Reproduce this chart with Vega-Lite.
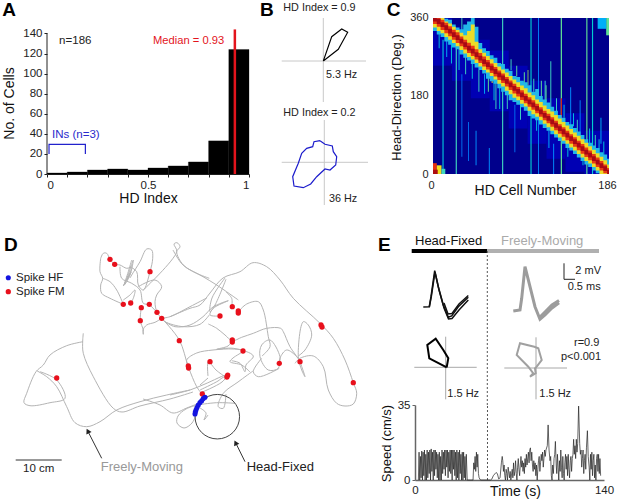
{"$schema":"https://vega.github.io/schema/vega-lite/v6.json","autosize":{"type":"none"},"padding":{"left":47,"top":0,"right":570,"bottom":501},"background":"white","bounds":"flush","align":"none","center":false,"spacing":235,
"config":{"view":{"stroke":null},"font":"Liberation Sans","text":{"font":"Liberation Sans","align":"left","baseline":"middle","fontSize":11},"axis":{"grid":false,"labelFont":"Liberation Sans","titleFont":"Liberation Sans","labelColor":"#222","titleColor":"#111","titleFontWeight":"normal","domainColor":"#222","tickColor":"#222"}},
"vconcat":[
{"hconcat":[
{"width":202,"height":174,
"encoding":{"x":{"field":"x","type":"quantitative","scale":{"domain":[0,1],"nice":false},"axis":{"values":[0,0.1,0.2,0.3,0.4,0.5,0.6,0.7,0.8,0.9,1],"labelExpr":"(datum.value==0||datum.value==0.5||datum.value==1)?datum.label:''","format":"~g","title":"HD Index","tickSize":3,"labelFontSize":11.5,"titleFontSize":14,"titlePadding":1,"labelPadding":2,"labelOverlap":false}},"y":{"field":"y","type":"quantitative","scale":{"domain":[0,173.3],"nice":false},"axis":{"values":[0,20,40,60,80,100,120,140],"title":"No. of Cells","domain":false,"tickSize":3,"labelFontSize":11.5,"titleFontSize":14,"titleX":-38,"titleY":103,"titleBaseline":"middle","labelPadding":2}}},
"layer":[
{"data":{"values":[{"x":0,"x2":0.1,"y":1},{"x":0.1,"x2":0.2,"y":2},{"x":0.2,"x2":0.3,"y":4},{"x":0.3,"x2":0.4,"y":5},{"x":0.4,"x2":0.5,"y":4},{"x":0.5,"x2":0.6,"y":6},{"x":0.6,"x2":0.7,"y":8},{"x":0.7,"x2":0.8,"y":12},{"x":0.8,"x2":0.9,"y":33},{"x":0.9,"x2":1,"y":124}]},"mark":{"type":"rect","color":"#000","stroke":"#000","strokeWidth":0.3},"encoding":{"x2":{"field":"x2"},"y2":{"datum":0}}},
{"data":{"values":[{"x":0,"y":0},{"x":0,"y":140}]},"mark":{"type":"line","color":"#222","strokeWidth":1}},
{"data":{"values":[{"x":0.93,"y":0},{"x":0.93,"y":144}]},"mark":{"type":"line","color":"#e3141c","strokeWidth":2.5},"encoding":{"order":{"field":"y"}}},
{"data":{"values":[{"x":0.01,"y":20,"i":1},{"x":0.01,"y":29.5,"i":2},{"x":0.19,"y":29.5,"i":3},{"x":0.19,"y":20,"i":4}]},"mark":{"type":"line","color":"#2222cc","strokeWidth":1.2},"encoding":{"order":{"field":"i"}}},
{"data":{"values":[{"x":0.06,"y":132,"t":"n=186"}]},"mark":{"type":"text","color":"#222","fontSize":11.5},"encoding":{"text":{"field":"t"}}},
{"data":{"values":[{"x":0.525,"y":132,"t":"Median = 0.93"}]},"mark":{"type":"text","color":"#e3141c","fontSize":11.2},"encoding":{"text":{"field":"t"}}},
{"data":{"values":[{"x":0.025,"y":39,"t":"INs (n=3)"}]},"mark":{"type":"text","color":"#2a2acc","fontSize":11.5},"encoding":{"text":{"field":"t"}}},
{"data":{"values":[{"x":-0.222,"y":163,"t":"A"}]},"mark":{"type":"text","color":"#000","fontSize":19,"fontWeight":"bold"},"encoding":{"text":{"field":"t"}}}
]},
{"width":120,"height":210,
"encoding":{"x":{"field":"x","type":"quantitative","scale":{"domain":[281,401],"nice":false,"zero":false},"axis":null},"y":{"field":"y","type":"quantitative","scale":{"domain":[0,210],"reverse":true,"nice":false},"axis":null}},
"layer":[
{"data":{"values":[{"s":1,"x":281.7,"y":61},{"s":1,"x":366,"y":61},{"s":2,"x":323.3,"y":18},{"s":2,"x":323.3,"y":102},{"s":3,"x":281.7,"y":162.3},{"s":3,"x":368,"y":162.3},{"s":4,"x":324.3,"y":120},{"s":4,"x":324.3,"y":205}]},"transform":[{"window":[{"op":"row_number","as":"i"}]}],"mark":{"type":"line","color":"#c8c8c8","strokeWidth":1},"encoding":{"order":{"field":"i"},"detail":{"field":"s"}}},
{"data":{"values":[{"x":323.3,"y":61},{"x":331.7,"y":36.7},{"x":341.7,"y":29},{"x":347.7,"y":32.3},{"x":338.3,"y":49.3},{"x":323.3,"y":61}]},"transform":[{"window":[{"op":"row_number","as":"i"}]}],"mark":{"type":"line","color":"#000","strokeWidth":1.1},"encoding":{"order":{"field":"i"}}},
{"data":{"values":[{"x":320,"y":140.7},{"x":325,"y":144.3},{"x":332.3,"y":146},{"x":333.3,"y":151.7},{"x":336.7,"y":156.7},{"x":335.7,"y":165},{"x":330,"y":170},{"x":325,"y":169},{"x":316.7,"y":176.7},{"x":310.7,"y":184},{"x":303.3,"y":187.7},{"x":294,"y":186},{"x":292.7,"y":176.7},{"x":298.3,"y":163.3},{"x":301.7,"y":153.3},{"x":306.7,"y":148.3},{"x":312.7,"y":146.7},{"x":314,"y":141.7},{"x":320,"y":140.7}]},"transform":[{"window":[{"op":"row_number","as":"i"}]}],"mark":{"type":"line","color":"#1c1ccc","strokeWidth":1.2},"encoding":{"order":{"field":"i"}}},
{"data":{"values":[{"x":283.3,"y":7.5,"t":"HD Index = 0.9"},{"x":326,"y":74.7,"t":"5.3 Hz"},{"x":283.3,"y":112.7,"t":"HD Index = 0.2"},{"x":329,"y":199,"t":"36 Hz"}]},"mark":{"type":"text","color":"#222","fontSize":10.8},"encoding":{"text":{"field":"t"}}},
{"data":{"values":[{"x":260,"y":10,"t":"B"}]},"mark":{"type":"text","color":"#000","fontSize":19,"fontWeight":"bold"},"encoding":{"text":{"field":"t"}}}
]},
{"width":176,"height":174,
"encoding":{"x":{"field":"c","type":"quantitative","scale":{"domain":[0,186],"nice":false},"axis":{"values":[0,186],"title":"HD Cell Number","domain":false,"ticks":false,"labelFontSize":11,"titleFontSize":14,"labelPadding":5,"titleX":92,"titleY":16,"titleBaseline":"middle","labelOverlap":false,"labelFlush":false,"labelOffset":-2}},"y":{"field":"h","type":"quantitative","scale":{"domain":[0,401.5],"nice":false},"axis":{"values":[0,180,360],"title":"Head-Direction (Deg.)","domain":false,"ticks":false,"labelFontSize":11,"titleFontSize":13,"titleX":-37,"titleY":97,"titleBaseline":"middle","labelPadding":5}}},
"layer":[
{"data":{"values":[{"c":0,"c2":186,"h":0,"h2":360,"q":0},{"c":0,"c2":20,"h":250,"h2":360,"q":0.12},{"c":20,"c2":40,"h":215,"h2":340,"q":0.12},{"c":40,"c2":60,"h":175,"h2":310,"q":0.12},{"c":60,"c2":80,"h":145,"h2":285,"q":0.12},{"c":80,"c2":100,"h":105,"h2":250,"q":0.12},{"c":100,"c2":120,"h":70,"h2":215,"q":0.12},{"c":120,"c2":140,"h":35,"h2":175,"q":0.12},{"c":140,"c2":160,"h":5,"h2":140,"q":0.12},{"c":160,"c2":186,"h":0,"h2":100,"q":0.12},{"c":10,"c2":11.2,"h":0,"h2":310,"q":0.4},{"c":24,"c2":25.2,"h":0,"h2":300,"q":0.45},{"c":30,"c2":31,"h":310,"h2":360,"q":0.45},{"c":30,"c2":31,"h":40,"h2":230,"q":0.25},{"c":37,"c2":38,"h":30,"h2":120,"q":0.25},{"c":45,"c2":46,"h":20,"h2":100,"q":0.3},{"c":73,"c2":74.2,"h":0,"h2":360,"q":0.45},{"c":59,"c2":60,"h":0,"h2":60,"q":0.3},{"c":66,"c2":67,"h":150,"h2":220,"q":0.45},{"c":86,"c2":87,"h":50,"h2":160,"q":0.25},{"c":103,"c2":104.2,"h":0,"h2":360,"q":0.42},{"c":111,"c2":112,"h":0,"h2":360,"q":0.28},{"c":124,"c2":125,"h":150,"h2":260,"q":0.45},{"c":127,"c2":128,"h":0,"h2":70,"q":0.3},{"c":135,"c2":136.3,"h":0,"h2":360,"q":0.5},{"c":145,"c2":146,"h":110,"h2":200,"q":0.3},{"c":155,"c2":156,"h":90,"h2":170,"q":0.28},{"c":162,"c2":163.2,"h":0,"h2":360,"q":0.5},{"c":168,"c2":169.2,"h":0,"h2":360,"q":0.42},{"c":177,"c2":178,"h":70,"h2":130,"q":0.35},{"c":183,"c2":186,"h":320,"h2":360,"q":0.5},{"c":174,"c2":183,"h":335,"h2":360,"q":0.35},{"c":0,"c2":4,"h":0,"h2":25,"q":0.8},{"c":4,"c2":9,"h":0,"h2":20,"q":0.6},{"c":9,"c2":13,"h":0,"h2":12,"q":0.45},{"c":0,"c2":5,"h":0,"h2":10,"q":0.95},{"c":36,"c2":44,"h":295,"h2":345,"q":0.5},{"c":100,"c2":100.8,"h":205,"h2":240,"q":0.55},{"c":62,"c2":63,"h":210,"h2":250,"q":0.6},{"c":118,"c2":119,"h":170,"h2":215,"q":0.45},{"c":135,"c2":136.3,"h":130,"h2":175,"q":0.85},
{"c":6,"c2":7,"h":290,"h2":330,"q":0.4},{"c":14,"c2":15,"h":270,"h2":320,"q":0.35},{"c":19,"c2":20,"h":255,"h2":310,"q":0.4},{"c":27,"c2":28,"h":240,"h2":300,"q":0.4},{"c":34,"c2":35,"h":230,"h2":280,"q":0.45},{"c":41,"c2":42,"h":220,"h2":260,"q":0.4},{"c":48,"c2":49,"h":190,"h2":240,"q":0.45},{"c":54,"c2":55,"h":185,"h2":230,"q":0.35},{"c":58,"c2":59,"h":190,"h2":225,"q":0.5},{"c":64,"c2":65,"h":170,"h2":215,"q":0.4},{"c":70,"c2":71,"h":150,"h2":205,"q":0.4},{"c":78,"c2":79,"h":150,"h2":190,"q":0.45},{"c":82,"c2":83,"h":240,"h2":265,"q":0.45},{"c":88,"c2":89,"h":225,"h2":250,"q":0.5},{"c":92,"c2":93,"h":125,"h2":165,"q":0.45},{"c":96,"c2":97,"h":205,"h2":235,"q":0.5},{"c":106,"c2":107,"h":190,"h2":220,"q":0.45},{"c":109,"c2":110,"h":100,"h2":130,"q":0.4},{"c":114,"c2":115,"h":180,"h2":215,"q":0.5},{"c":119,"c2":120,"h":165,"h2":205,"q":0.5},{"c":122,"c2":123,"h":60,"h2":100,"q":0.35},{"c":130,"c2":131,"h":145,"h2":175,"q":0.45},{"c":138,"c2":139,"h":130,"h2":160,"q":0.4},{"c":142,"c2":143,"h":40,"h2":70,"q":0.4},{"c":148,"c2":149,"h":110,"h2":140,"q":0.4},{"c":152,"c2":153,"h":90,"h2":125,"q":0.45},{"c":158,"c2":159,"h":20,"h2":45,"q":0.4},{"c":165,"c2":166,"h":70,"h2":105,"q":0.4},{"c":171,"c2":172,"h":55,"h2":90,"q":0.45},{"c":175,"c2":176,"h":50,"h2":80,"q":0.4},{"c":180,"c2":181,"h":40,"h2":75,"q":0.4}]},"mark":{"type":"rect"},"encoding":{"x2":{"field":"c2"},"y2":{"field":"h2"},"color":{"field":"q","type":"quantitative","legend":null,"scale":{"domain":[0,0.12,0.3,0.45,0.6,0.8,1],"range":["#00008c","#0000b4","#0090ff","#40d8c0","#f0e020","#e83010","#9a0010"]}}}},
{"data":{"name":"band","values":[{"c":0,"al":330,"ah":360,"yl":338,"yh":360,"rl":346,"rh":360,"dl":352,"dh":360},{"c":4,"al":322,"ah":360,"yl":330,"yh":360,"rl":340,"rh":360,"dl":346,"dh":358},{"c":8,"al":316,"ah":360,"yl":325,"yh":360,"rl":332,"rh":356,"dl":339,"dh":350},{"c":12,"al":306,"ah":358,"yl":316,"yh":352,"rl":325,"rh":349,"dl":332,"dh":343},{"c":16,"al":298,"ah":356,"yl":310,"yh":347,"rl":318,"rh":341,"dl":324,"dh":335},{"c":20,"al":292,"ah":345,"yl":302,"yh":340,"rl":310,"rh":333,"dl":316,"dh":327},{"c":24,"al":288,"ah":338,"yl":295,"yh":332,"rl":302,"rh":327,"dl":309,"dh":320},{"c":28,"al":276,"ah":334,"yl":286,"yh":326,"rl":295,"rh":317,"dl":301,"dh":312},{"c":32,"al":268,"ah":345,"yl":278,"yh":320,"rl":287,"rh":310,"dl":293,"dh":304},{"c":36,"al":262,"ah":352,"yl":270,"yh":330,"rl":279,"rh":303,"dl":285,"dh":296},{"c":40,"al":254,"ah":360,"yl":264,"yh":345,"rl":272,"rh":296,"dl":278,"dh":289},{"c":44,"al":246,"ah":340,"yl":256,"yh":305,"rl":264,"rh":288,"dl":270,"dh":281},{"c":48,"al":240,"ah":302,"yl":248,"yh":288,"rl":256,"rh":279,"dl":262,"dh":273},{"c":52,"al":232,"ah":290,"yl":240,"yh":280,"rl":248,"rh":271,"dl":254,"dh":265},{"c":56,"al":220,"ah":284,"yl":234,"yh":272,"rl":241,"rh":263,"dl":247,"dh":258},{"c":60,"al":214,"ah":274,"yl":226,"yh":265,"rl":233,"rh":255,"dl":239,"dh":250},{"c":64,"al":208,"ah":268,"yl":218,"yh":256,"rl":225,"rh":247,"dl":231,"dh":242},{"c":68,"al":198,"ah":256,"yl":208,"yh":248,"rl":217,"rh":239,"dl":223,"dh":234},{"c":72,"al":190,"ah":254,"yl":202,"yh":241,"rl":210,"rh":232,"dl":216,"dh":227},{"c":76,"al":182,"ah":243,"yl":192,"yh":234,"rl":202,"rh":224,"dl":208,"dh":219},{"c":80,"al":170,"ah":238,"yl":184,"yh":226,"rl":194,"rh":216,"dl":200,"dh":211},{"c":84,"al":166,"ah":226,"yl":176,"yh":218,"rl":186,"rh":208,"dl":192,"dh":203},{"c":88,"al":160,"ah":224,"yl":170,"yh":212,"rl":179,"rh":201,"dl":185,"dh":196},{"c":92,"al":154,"ah":215,"yl":162,"yh":204,"rl":171,"rh":193,"dl":177,"dh":188},{"c":96,"al":146,"ah":212,"yl":156,"yh":198,"rl":163,"rh":185,"dl":169,"dh":180},{"c":100,"al":134,"ah":205,"yl":146,"yh":188,"rl":155,"rh":177,"dl":161,"dh":172},{"c":104,"al":128,"ah":190,"yl":138,"yh":182,"rl":148,"rh":170,"dl":154,"dh":165},{"c":108,"al":124,"ah":196,"yl":132,"yh":172,"rl":140,"rh":162,"dl":146,"dh":157},{"c":112,"al":114,"ah":180,"yl":124,"yh":166,"rl":132,"rh":154,"dl":138,"dh":149},{"c":116,"al":106,"ah":172,"yl":116,"yh":158,"rl":124,"rh":146,"dl":130,"dh":141},{"c":120,"al":100,"ah":165,"yl":108,"yh":150,"rl":117,"rh":139,"dl":123,"dh":134},{"c":124,"al":92,"ah":155,"yl":100,"yh":144,"rl":109,"rh":131,"dl":115,"dh":126},{"c":128,"al":84,"ah":146,"yl":92,"yh":136,"rl":101,"rh":123,"dl":107,"dh":118},{"c":132,"al":76,"ah":136,"yl":84,"yh":128,"rl":93,"rh":115,"dl":99,"dh":110},{"c":136,"al":70,"ah":130,"yl":77,"yh":120,"rl":86,"rh":108,"dl":92,"dh":103},{"c":140,"al":60,"ah":120,"yl":70,"yh":112,"rl":78,"rh":100,"dl":84,"dh":95},{"c":144,"al":54,"ah":115,"yl":61,"yh":104,"rl":70,"rh":92,"dl":76,"dh":87},{"c":148,"al":46,"ah":106,"yl":54,"yh":96,"rl":63,"rh":85,"dl":69,"dh":80},{"c":152,"al":38,"ah":98,"yl":46,"yh":88,"rl":55,"rh":77,"dl":61,"dh":72},{"c":156,"al":30,"ah":90,"yl":38,"yh":80,"rl":47,"rh":69,"dl":53,"dh":64},{"c":160,"al":22,"ah":80,"yl":30,"yh":72,"rl":39,"rh":61,"dl":45,"dh":56},{"c":164,"al":16,"ah":72,"yl":24,"yh":64,"rl":32,"rh":54,"dl":38,"dh":49},{"c":168,"al":8,"ah":66,"yl":16,"yh":56,"rl":24,"rh":46,"dl":30,"dh":41},{"c":172,"al":2,"ah":60,"yl":8,"yh":48,"rl":16,"rh":38,"dl":22,"dh":33},{"c":176,"al":0,"ah":50,"yl":0,"yh":40,"rl":8,"rh":30,"dl":14,"dh":25},{"c":180,"al":0,"ah":45,"yl":0,"yh":32,"rl":2,"rh":22,"dl":7,"dh":18},{"c":184,"al":0,"ah":35,"yl":0,"yh":22,"rl":0,"rh":14,"dl":0,"dh":10},{"c":186,"al":0,"ah":35,"yl":0,"yh":22,"rl":0,"rh":14,"dl":0,"dh":10}]},"mark":{"type":"area","color":"#22b8e8","interpolate":"step-after"},"encoding":{"y":{"field":"al","type":"quantitative"},"y2":{"field":"ah"}}},
{"data":{"name":"band"},"mark":{"type":"area","color":"#ecdc28","interpolate":"step-after"},"encoding":{"y":{"field":"yl","type":"quantitative"},"y2":{"field":"yh"}}},
{"data":{"name":"band"},"mark":{"type":"area","color":"#e83a14","interpolate":"step-after"},"encoding":{"y":{"field":"rl","type":"quantitative"},"y2":{"field":"rh"}}},
{"data":{"name":"band"},"mark":{"type":"area","color":"#a80a14","interpolate":"step-after"},"encoding":{"y":{"field":"dl","type":"quantitative"},"y2":{"field":"dh"}}},
{"data":{"values":[{"c":-49,"h":378,"t":"C"}]},"mark":{"type":"text","color":"#000","fontSize":19,"fontWeight":"bold"},"encoding":{"text":{"field":"t"}}}
]}
],"spacing":32,"bounds":"flush","align":"none","center":false},
{"hconcat":[
{"width":363,"height":235,
"encoding":{"x":{"field":"x","type":"quantitative","scale":{"domain":[47,410],"nice":false,"zero":false},"axis":null},"y":{"field":"y","type":"quantitative","scale":{"domain":[235,470],"reverse":true,"nice":false,"zero":false},"axis":null}},
"layer":[
{"data":{"values":[
{"s":1,"x":190,"y":390},{"s":1,"x":166.7,"y":395},{"s":1,"x":140,"y":401.7},{"s":1,"x":116.7,"y":410},{"s":1,"x":100,"y":421.7},{"s":1,"x":86.7,"y":426.7},{"s":1,"x":75,"y":422.7},{"s":1,"x":66.7,"y":406.7},{"s":1,"x":56.7,"y":386.7},{"s":1,"x":46.7,"y":376.7},{"s":1,"x":36.7,"y":370.7},
{"s":2,"x":83,"y":341.7},{"s":2,"x":66.7,"y":345.7},{"s":2,"x":50,"y":355},{"s":2,"x":43.3,"y":365},{"s":2,"x":36,"y":371.7},{"s":2,"x":26.7,"y":393.3},{"s":2,"x":24,"y":402.7},{"s":2,"x":30,"y":405.7},{"s":2,"x":50,"y":402.7},{"s":2,"x":65,"y":398.3},{"s":2,"x":56.7,"y":380},{"s":2,"x":40,"y":371.7},
{"s":3,"x":83.3,"y":333.3},{"s":3,"x":82.7,"y":341},{"s":3,"x":83.3,"y":353.3},{"s":3,"x":93.3,"y":376.7},{"s":3,"x":113.3,"y":408.3},{"s":3,"x":122,"y":412},{"s":3,"x":140,"y":406},{"s":3,"x":170,"y":399},{"s":3,"x":193,"y":392},
{"s":4,"x":143,"y":399},{"s":4,"x":160,"y":405},{"s":4,"x":173,"y":413},{"s":4,"x":186.7,"y":408},{"s":4,"x":197,"y":404},
{"s":5,"x":197,"y":405},{"s":5,"x":186,"y":409},{"s":5,"x":178,"y":416},{"s":5,"x":177,"y":423},{"s":5,"x":184,"y":428},{"s":5,"x":192,"y":423},{"s":5,"x":197,"y":412},
{"s":6,"x":170,"y":395},{"s":6,"x":190,"y":390},{"s":6,"x":205,"y":384},{"s":6,"x":227,"y":375},{"s":6,"x":222,"y":382},{"s":6,"x":200,"y":393},
{"s":7,"x":161.7,"y":318.3},{"s":7,"x":179.3,"y":340},{"s":7,"x":188.3,"y":366.7},{"s":7,"x":196.7,"y":386.7},{"s":7,"x":202,"y":394},
{"s":8,"x":188.3,"y":366.7},{"s":8,"x":186.7,"y":360},{"s":8,"x":196.7,"y":353},{"s":8,"x":213,"y":350},{"s":8,"x":233,"y":349},{"s":8,"x":243,"y":350.7},{"s":8,"x":233,"y":358},{"s":8,"x":230,"y":361.7},{"s":8,"x":241.7,"y":365},{"s":8,"x":250,"y":372},
{"s":9,"x":208,"y":376},{"s":9,"x":208.3,"y":361.7},{"s":9,"x":216,"y":370},{"s":9,"x":225,"y":376.7},
{"s":10,"x":200,"y":385},{"s":10,"x":208,"y":378},
{"s":11,"x":173,"y":250},{"s":11,"x":183,"y":265},{"s":11,"x":203,"y":276.7},{"s":11,"x":216.7,"y":285},{"s":11,"x":238.3,"y":300},
{"s":12,"x":170,"y":316.7},{"s":12,"x":190,"y":308.3},{"s":12,"x":200,"y":305},{"s":12,"x":210,"y":293},{"s":12,"x":223,"y":278},{"s":12,"x":240,"y":271.7},{"s":12,"x":253,"y":262.7},{"s":12,"x":266.7,"y":266.7},{"s":12,"x":280,"y":280},{"s":12,"x":293.3,"y":298.3},{"s":12,"x":320,"y":323.3},{"s":12,"x":333.3,"y":338.3},{"s":12,"x":345,"y":360},{"s":12,"x":353.3,"y":382.7},{"s":12,"x":356.7,"y":393.3},{"s":12,"x":353.3,"y":404},{"s":12,"x":345,"y":406},{"s":12,"x":336.7,"y":403.3},{"s":12,"x":328.3,"y":390},{"s":12,"x":323.3,"y":366.7},{"s":12,"x":313.3,"y":356},{"s":12,"x":300,"y":358.3},{"s":12,"x":295,"y":363.3},
{"s":13,"x":300,"y":361.7},{"s":13,"x":305,"y":376.7},{"s":13,"x":301.7,"y":370},{"s":13,"x":298.3,"y":356.7},{"s":13,"x":303.3,"y":321.7},{"s":13,"x":308.3,"y":325},{"s":13,"x":311.7,"y":335},{"s":13,"x":305,"y":350},{"s":13,"x":298.3,"y":356},
{"s":14,"x":208.3,"y":324},{"s":14,"x":216.7,"y":328.3},{"s":14,"x":225,"y":335},{"s":14,"x":232.3,"y":340.7},{"s":14,"x":241.7,"y":337.3},{"s":14,"x":253.3,"y":333.3},{"s":14,"x":266.7,"y":328.3},{"s":14,"x":280.7,"y":328.3},{"s":14,"x":283.3,"y":331.7},{"s":14,"x":290,"y":346.7},{"s":14,"x":298,"y":358},
{"s":15,"x":238.3,"y":311.7},{"s":15,"x":246.7,"y":304},{"s":15,"x":258.3,"y":301.7},{"s":15,"x":263.3,"y":310},{"s":15,"x":268.3,"y":336.7},{"s":15,"x":270,"y":346.7},{"s":15,"x":262,"y":356},
{"s":16,"x":220,"y":316},{"s":16,"x":210,"y":315},{"s":16,"x":213.3,"y":308.3},{"s":16,"x":228.3,"y":300.7},{"s":16,"x":213,"y":307},{"s":16,"x":203,"y":316.7},{"s":16,"x":190,"y":325},{"s":16,"x":175,"y":326.7},{"s":16,"x":165,"y":321.7},
{"s":17,"x":226,"y":279.3},{"s":17,"x":215,"y":305},{"s":17,"x":210,"y":311.7},{"s":17,"x":212,"y":298},{"s":17,"x":225,"y":278},
{"s":18,"x":231.7,"y":306.7},{"s":18,"x":231.7,"y":298.3},{"s":18,"x":226,"y":292},
{"s":19,"x":279.3,"y":363.3},{"s":19,"x":280,"y":356.7},{"s":19,"x":270,"y":340},{"s":19,"x":261.7,"y":345},{"s":19,"x":260,"y":356.7},{"s":19,"x":268.3,"y":370},{"s":19,"x":278.3,"y":368.3},{"s":19,"x":280,"y":358},{"s":19,"x":286.7,"y":350},{"s":19,"x":296.7,"y":356.7},{"s":19,"x":300,"y":361.7},
{"s":20,"x":279.3,"y":368.3},{"s":20,"x":258.3,"y":376.7},{"s":20,"x":253.3,"y":371.7},{"s":20,"x":261.7,"y":358.3},
{"s":21,"x":232.3,"y":340.7},{"s":21,"x":228,"y":346},{"s":21,"x":216.7,"y":349.3},{"s":21,"x":233.3,"y":348.3},{"s":21,"x":253.3,"y":356},{"s":21,"x":246,"y":365},{"s":21,"x":245,"y":371.7},{"s":21,"x":240,"y":363.3},{"s":21,"x":231.7,"y":360.7},
{"s":22,"x":253,"y":371},{"s":22,"x":238,"y":382},{"s":22,"x":223.3,"y":393.3},{"s":22,"x":218.3,"y":406.7},{"s":22,"x":223.3,"y":408.3},{"s":22,"x":226,"y":394},
{"s":23,"x":227.3,"y":376},{"s":23,"x":222,"y":378},{"s":23,"x":218,"y":381},{"s":23,"x":200,"y":390},
{"s":24,"x":196.7,"y":405},{"s":24,"x":216.7,"y":402.7},{"s":24,"x":235,"y":403.3},
{"s":25,"x":200,"y":408},{"s":25,"x":206,"y":413},{"s":25,"x":204,"y":420},{"s":25,"x":208,"y":415},
{"s":26,"x":100.7,"y":258.3},{"s":26,"x":103.3,"y":253.3},{"s":26,"x":106.7,"y":253.3},{"s":26,"x":110,"y":259.3},{"s":26,"x":114.7,"y":264.3},{"s":26,"x":120,"y":265},{"s":26,"x":126.7,"y":268.3},{"s":26,"x":131.7,"y":266.7},
{"s":27,"x":100.7,"y":258.3},{"s":27,"x":100,"y":271.7},{"s":27,"x":102.7,"y":278.3},{"s":27,"x":100.7,"y":285},{"s":27,"x":101.7,"y":293.3},{"s":27,"x":110,"y":298.3},{"s":27,"x":123.3,"y":304.3},
{"s":28,"x":102.7,"y":278.3},{"s":28,"x":110,"y":281.7},{"s":28,"x":116.7,"y":290},{"s":28,"x":123.3,"y":304.3},
{"s":29,"x":131.7,"y":260},{"s":29,"x":128.3,"y":271.7},{"s":29,"x":124.3,"y":285},{"s":29,"x":130,"y":275},{"s":29,"x":133.3,"y":260},{"s":29,"x":127,"y":278},{"s":29,"x":123.3,"y":286},{"s":29,"x":131,"y":272},{"s":29,"x":127,"y":280},{"s":29,"x":132,"y":268},
{"s":30,"x":130,"y":278},{"s":30,"x":131.7,"y":275},{"s":30,"x":140,"y":261.7},{"s":30,"x":146.7,"y":249},{"s":30,"x":151.7,"y":250},{"s":30,"x":152.7,"y":258.3},{"s":30,"x":150,"y":271.7},{"s":30,"x":143.3,"y":290},{"s":30,"x":138.3,"y":285},{"s":30,"x":136.7,"y":271.7},{"s":30,"x":130,"y":266.7},
{"s":31,"x":143.3,"y":290},{"s":31,"x":176.7,"y":251.7},{"s":31,"x":174,"y":244},{"s":31,"x":177,"y":242.7},{"s":31,"x":180,"y":246.7},{"s":31,"x":176.7,"y":251.7},{"s":31,"x":183.3,"y":265},{"s":31,"x":196.7,"y":273.3},{"s":31,"x":209.3,"y":278.3},
{"s":32,"x":120,"y":266.7},{"s":32,"x":121.7,"y":278.3},{"s":32,"x":131.7,"y":283.3},{"s":32,"x":140,"y":290},{"s":32,"x":143.3,"y":303.3},{"s":32,"x":149.3,"y":304.3},
{"s":33,"x":130.7,"y":303},{"s":33,"x":133.3,"y":298.3},{"s":33,"x":135,"y":290},{"s":33,"x":130,"y":295},{"s":33,"x":123.3,"y":300},
{"s":34,"x":138.3,"y":286.7},{"s":34,"x":155,"y":280},{"s":34,"x":161.7,"y":286.7},{"s":34,"x":156.7,"y":295},{"s":34,"x":155,"y":301.7},{"s":34,"x":157,"y":312.3},{"s":34,"x":161.7,"y":318.3},
{"s":35,"x":149.3,"y":304.3},{"s":35,"x":157,"y":312.3},
{"s":36,"x":141.3,"y":307.7},{"s":36,"x":140.3,"y":320.7},{"s":36,"x":143.3,"y":330},{"s":36,"x":143.3,"y":334.3},{"s":36,"x":143,"y":330},{"s":36,"x":146.7,"y":325},{"s":36,"x":155,"y":322.3},{"s":36,"x":161.7,"y":318.3},
{"s":37,"x":161.7,"y":318.3},{"s":37,"x":170,"y":316.7},{"s":37,"x":190,"y":306.7},{"s":37,"x":206.7,"y":298},
{"s":38,"x":161.7,"y":318.3},{"s":38,"x":165,"y":321.7},{"s":38,"x":183.3,"y":326.7},{"s":38,"x":200,"y":324.3},{"s":38,"x":209.3,"y":315}
]},"transform":[{"window":[{"op":"row_number","as":"i"}]}],"mark":{"type":"line","color":"#b4b4b4","strokeWidth":1,"strokeJoin":"round","interpolate":"catmull-rom"},"encoding":{"order":{"field":"i"},"detail":{"field":"s"}}},
{"data":{"values":[{"x":217.3,"y":416.7}]},"mark":{"type":"point","shape":"circle","filled":false,"size":1980,"stroke":"#444","strokeWidth":1,"opacity":1}},
{"data":{"values":[{"x":110,"y":259.3},{"x":114.7,"y":264.3},{"x":150,"y":271.7},{"x":123.3,"y":304.3},{"x":130.7,"y":303},{"x":141.3,"y":307.7},{"x":149.3,"y":304.3},{"x":157,"y":312.3},{"x":161.7,"y":318.3},{"x":140.3,"y":320.7},{"x":179.3,"y":340.7},{"x":188.3,"y":366},{"x":188.6,"y":368},{"x":56.7,"y":378},{"x":232.3,"y":306.7},{"x":238.3,"y":311},{"x":238.3,"y":313},{"x":220,"y":316},{"x":232.3,"y":340},{"x":232.3,"y":342},{"x":243,"y":351},{"x":210,"y":361.7},{"x":227.7,"y":375.2},{"x":226.9,"y":377},{"x":202.3,"y":394},{"x":321,"y":325},{"x":322,"y":327},{"x":353.3,"y":382.7},{"x":279.3,"y":363.3},{"x":300,"y":361.7},{"x":8.3,"y":291.7}]},"mark":{"type":"point","shape":"circle","filled":true,"size":28,"color":"#e8101c","opacity":1}},
{"data":{"values":[{"x":205,"y":397.3},{"x":203.3,"y":398.5},{"x":201.7,"y":400.7},{"x":200,"y":402.5},{"x":198.3,"y":405},{"x":197,"y":407.5},{"x":196,"y":410},{"x":195.3,"y":412},{"x":195,"y":414},{"x":8.3,"y":277.7}]},"mark":{"type":"point","shape":"circle","filled":true,"size":26,"color":"#1414e0","opacity":1}},
{"data":{"values":[{"s":1,"x":15.7,"y":460},{"s":1,"x":61.7,"y":460},{"s":2,"x":101.7,"y":458.3},{"s":2,"x":88,"y":431.5},{"s":3,"x":245,"y":461.7},{"s":3,"x":236,"y":443.5}]},"transform":[{"window":[{"op":"row_number","as":"i"}]}],"mark":{"type":"line","color":"#333","strokeWidth":1},"encoding":{"order":{"field":"i"},"detail":{"field":"s"}}},
{"data":{"values":[{"x":87.8,"y":431},{"x":235.6,"y":442.8}]},"mark":{"type":"point","shape":"triangle-up","filled":true,"size":34,"angle":-27,"color":"#222","opacity":1}},
{"data":{"values":[{"x":16,"y":277.7,"t":"Spike HF"},{"x":16,"y":291.7,"t":"Spike FM"},{"x":23,"y":469,"t":"10 cm"}]},"mark":{"type":"text","color":"#222","fontSize":11.5},"encoding":{"text":{"field":"t"}}},
{"data":{"values":[{"x":246.7,"y":467.3,"t":"Head-Fixed"}]},"mark":{"type":"text","color":"#222","fontSize":13},"encoding":{"text":{"field":"t"}}},
{"data":{"values":[{"x":100.7,"y":467.3,"t":"Freely-Moving"}]},"mark":{"type":"text","color":"#999","fontSize":13},"encoding":{"text":{"field":"t"}}},
{"data":{"values":[{"x":4,"y":245,"t":"D"}]},"mark":{"type":"text","color":"#000","fontSize":19,"fontWeight":"bold"},"encoding":{"text":{"field":"t"}}}
]},
{"vconcat":[
{"width":189,"height":170,
"encoding":{"x":{"field":"x","type":"quantitative","scale":{"domain":[415,604],"nice":false,"zero":false},"axis":null},"y":{"field":"y","type":"quantitative","scale":{"domain":[235,405],"reverse":true,"nice":false,"zero":false},"axis":null}},
"layer":[
{"data":{"values":[{"x":411.7,"y":251},{"x":487.3,"y":251}]},"mark":{"type":"line","color":"#000","strokeWidth":4}},
{"data":{"values":[{"x":487.3,"y":251},{"x":599,"y":251}]},"mark":{"type":"line","color":"#b0b0b0","strokeWidth":4}},
{"data":{"values":[{"x":487.3,"y":251},{"x":487.3,"y":405}]},"mark":{"type":"line","color":"#555","strokeWidth":1,"strokeDash":[2,2]},"encoding":{"order":{"field":"y"}}},
{"data":{"values":[{"s":1,"x":414.3,"y":367.3},{"s":1,"x":476.7,"y":367.3},{"s":2,"x":445.7,"y":336.7},{"s":2,"x":445.7,"y":399.3},{"s":3,"x":504.3,"y":368},{"s":3,"x":567,"y":368},{"s":4,"x":536,"y":337.3},{"s":4,"x":536,"y":399.3}]},"transform":[{"window":[{"op":"row_number","as":"i"}]}],"mark":{"type":"line","color":"#a8a8a8","strokeWidth":1},"encoding":{"order":{"field":"i"},"detail":{"field":"s"}}},
{"data":{"values":[{"x":446.7,"y":367.3},{"x":448.3,"y":358.3},{"x":443.3,"y":350},{"x":435.7,"y":338.7},{"x":427.3,"y":345},{"x":429.3,"y":358.3},{"x":446.7,"y":367.3}]},"transform":[{"window":[{"op":"row_number","as":"i"}]}],"mark":{"type":"line","color":"#000","strokeWidth":2},"encoding":{"order":{"field":"i"}}},
{"data":{"values":[{"x":536.7,"y":366.7},{"x":541.7,"y":360},{"x":538.3,"y":348.3},{"x":534.3,"y":346.7},{"x":520,"y":343.3},{"x":516.7,"y":355},{"x":528.3,"y":366.7},{"x":533.3,"y":373.3},{"x":530,"y":376.7},{"x":535.7,"y":373.3},{"x":535,"y":368.3},{"x":536.7,"y":366.7}]},"transform":[{"window":[{"op":"row_number","as":"i"}]}],"mark":{"type":"line","color":"#a0a0a0","strokeWidth":2},"encoding":{"order":{"field":"i"}}},
{"data":{"values":[
{"s":1,"x":513.3,"y":311},{"s":1,"x":520,"y":310},{"s":1,"x":521.7,"y":298.3},{"s":1,"x":525,"y":266.7},{"s":1,"x":530,"y":286.7},{"s":1,"x":535,"y":306.7},{"s":1,"x":540,"y":319.3},{"s":1,"x":545,"y":315},{"s":1,"x":551.7,"y":308.3},{"s":1,"x":559,"y":302.7},
{"s":2,"x":540,"y":317},{"s":2,"x":546,"y":311},{"s":2,"x":552,"y":305},{"s":2,"x":559,"y":300.5}
]},"transform":[{"window":[{"op":"row_number","as":"i"}]}],"mark":{"type":"line","color":"#9c9c9c","strokeWidth":3},"encoding":{"order":{"field":"i"},"detail":{"field":"s"}}},
{"data":{"values":[
{"s":1,"x":423.3,"y":307},{"s":1,"x":429.3,"y":306.7},{"s":1,"x":431,"y":296.7},{"s":1,"x":434.7,"y":270.7},{"s":1,"x":438.3,"y":286.7},{"s":1,"x":443.3,"y":305},{"s":1,"x":448.3,"y":317.3},{"s":1,"x":451.7,"y":316},{"s":1,"x":458.3,"y":306.7},{"s":1,"x":468.3,"y":297.3},
{"s":2,"x":429.3,"y":307},{"s":2,"x":431.4,"y":296},{"s":2,"x":435,"y":272},{"s":2,"x":439,"y":290},{"s":2,"x":444,"y":308},{"s":2,"x":448.5,"y":319},{"s":2,"x":452,"y":318.5},{"s":2,"x":459,"y":310},{"s":2,"x":468.3,"y":300},
{"s":3,"x":444,"y":303},{"s":3,"x":448,"y":314},{"s":3,"x":452,"y":313.5},{"s":3,"x":459,"y":304},{"s":3,"x":468.3,"y":295.5}
]},"transform":[{"window":[{"op":"row_number","as":"i"}]}],"mark":{"type":"line","color":"#111","strokeWidth":1.5},"encoding":{"order":{"field":"i"},"detail":{"field":"s"}}},
{"data":{"values":[{"x":564,"y":263.3},{"x":564,"y":279.3},{"x":575,"y":279.3}]},"transform":[{"window":[{"op":"row_number","as":"i"}]}],"mark":{"type":"line","color":"#222","strokeWidth":1},"encoding":{"order":{"field":"i"}}},
{"data":{"values":[{"x":415,"y":240.7,"t":"Head-Fixed"}]},"mark":{"type":"text","color":"#111","fontSize":13},"encoding":{"text":{"field":"t"}}},
{"data":{"values":[{"x":501,"y":240.7,"t":"Freely-Moving"}]},"mark":{"type":"text","color":"#aaa","fontSize":13},"encoding":{"text":{"field":"t"}}},
{"data":{"values":[{"x":575.3,"y":270.7,"t":"2 mV"},{"x":567.7,"y":286.7,"t":"0.5 ms"},{"x":447.3,"y":394,"t":"1.5 Hz"},{"x":539.3,"y":394,"t":"1.5 Hz"},{"x":574,"y":342.7,"t":"r=0.9"},{"x":561,"y":356.7,"t":"p<0.001"}]},"mark":{"type":"text","color":"#222","fontSize":11},"encoding":{"text":{"field":"t"}}},
{"data":{"values":[{"x":378,"y":245,"t":"E"}]},"mark":{"type":"text","color":"#000","fontSize":19,"fontWeight":"bold"},"encoding":{"text":{"field":"t"}}}
]},
{"width":189,"height":75,
"encoding":{"x":{"field":"t","type":"quantitative","scale":{"domain":[0,140],"nice":false},"axis":{"values":[0,140],"title":"Time (s)","domainColor":"#666","domainWidth":1.5,"ticks":false,"labelFontSize":11.5,"labelPadding":4,"titleFontSize":14,"titleX":100,"titleY":11,"titleBaseline":"middle","labelFlush":false}},"y":{"field":"v","type":"quantitative","scale":{"domain":[0,35],"nice":false},"axis":{"values":[0,35],"title":"Speed (cm/s)","domainColor":"#666","domainWidth":1.5,"tickColor":"#666","tickSize":3,"labelFontSize":11.5,"labelPadding":2,"titleFontSize":13,"titleX":-29,"titleY":38,"titleBaseline":"middle"}}},
"layer":[
{"data":{"values":[{"t":53.7,"v":0},{"t":53.7,"v":35}]},"mark":{"type":"line","color":"#555","strokeWidth":1,"strokeDash":[2,2]},"encoding":{"order":{"field":"v"}}},
{"data":{"values":[{"t":2.5,"v":0},{"t":3,"v":13},{"t":3.5,"v":0},{"t":4,"v":11},{"t":4.5,"v":1},{"t":5,"v":13.5},{"t":5.5,"v":0},{"t":6,"v":13},{"t":6.5,"v":2},{"t":7,"v":14},{"t":7.5,"v":0},{"t":8,"v":12},{"t":8.5,"v":0},{"t":9,"v":14},{"t":9.5,"v":1},{"t":10,"v":13},{"t":10.5,"v":3},{"t":11,"v":14},{"t":11.5,"v":0},{"t":12,"v":14.5},{"t":12.5,"v":4},{"t":13,"v":13},{"t":13.5,"v":0},{"t":14,"v":14},{"t":14.5,"v":2},{"t":15,"v":14},{"t":15.5,"v":5},{"t":16,"v":13},{"t":16.5,"v":1},{"t":17,"v":12},{"t":17.5,"v":0},{"t":18,"v":13},{"t":18.5,"v":0},{"t":19,"v":11},{"t":19.5,"v":0},{"t":20,"v":14},{"t":20.5,"v":3},{"t":21,"v":13},{"t":21.5,"v":5},{"t":22,"v":14},{"t":22.5,"v":2},{"t":23,"v":14},{"t":23.5,"v":6},{"t":24,"v":14},{"t":24.5,"v":1},{"t":25,"v":13},{"t":25.5,"v":4},{"t":26,"v":14},{"t":26.5,"v":3},{"t":27,"v":14},{"t":27.5,"v":0},{"t":28,"v":14},{"t":28.5,"v":5},{"t":29,"v":14},{"t":29.5,"v":2},{"t":30,"v":13},{"t":30.5,"v":0},{"t":31,"v":14},{"t":31.5,"v":1},{"t":32,"v":13},{"t":32.5,"v":0},{"t":33,"v":14},{"t":33.5,"v":3},{"t":34,"v":12},{"t":34.5,"v":0},{"t":35,"v":13},{"t":35.5,"v":0},{"t":36,"v":13},{"t":36.5,"v":1},{"t":37,"v":11},{"t":37.5,"v":0},{"t":38,"v":12},{"t":38.7,"v":0},{"t":43,"v":0},{"t":43.5,"v":8},{"t":44,"v":5},{"t":44.5,"v":11},{"t":45,"v":4},{"t":45.5,"v":13},{"t":46,"v":6},{"t":46.5,"v":12},{"t":47,"v":3},{"t":47.5,"v":1},{"t":48.5,"v":0},{"t":56,"v":0},{"t":57,"v":0.5},{"t":58,"v":2},{"t":60,"v":3.5},{"t":61,"v":3},{"t":62,"v":0.5},{"t":63,"v":1},{"t":64,"v":8},{"t":64.6,"v":11},{"t":65,"v":9},{"t":65.5,"v":4},{"t":66,"v":7},{"t":66.5,"v":2},{"t":67,"v":0},{"t":67.5,"v":5},{"t":68,"v":3},{"t":68.5,"v":0},{"t":69,"v":6},{"t":70,"v":1},{"t":70.5,"v":4},{"t":71,"v":0},{"t":72,"v":5},{"t":72.5,"v":1},{"t":73,"v":8},{"t":73.5,"v":2},{"t":74,"v":4},{"t":74.5,"v":9},{"t":75,"v":3},{"t":75.5,"v":0},{"t":76,"v":6},{"t":76.5,"v":10},{"t":77,"v":5},{"t":77.5,"v":2},{"t":78,"v":7},{"t":78.5,"v":11},{"t":79,"v":6},{"t":79.5,"v":9},{"t":80,"v":4},{"t":80.5,"v":8},{"t":81,"v":3},{"t":81.5,"v":10},{"t":82,"v":6},{"t":82.5,"v":12},{"t":83,"v":7},{"t":84,"v":13},{"t":84.5,"v":8},{"t":85,"v":14},{"t":85.5,"v":15},{"t":86,"v":9},{"t":86.5,"v":13},{"t":87,"v":7},{"t":87.5,"v":4},{"t":88,"v":9},{"t":88.5,"v":5},{"t":89,"v":8},{"t":89.5,"v":2},{"t":90,"v":7},{"t":90.5,"v":0},{"t":91,"v":5},{"t":91.5,"v":9},{"t":92,"v":11},{"t":92.5,"v":4},{"t":93,"v":8},{"t":93.5,"v":12},{"t":94,"v":9},{"t":94.5,"v":13},{"t":95,"v":6},{"t":95.5,"v":10},{"t":96,"v":14},{"t":96.5,"v":11},{"t":97,"v":14},{"t":98,"v":16},{"t":98.6,"v":25.7},{"t":99.3,"v":14},{"t":100,"v":9},{"t":100.5,"v":11},{"t":101,"v":2},{"t":101.5,"v":0},{"t":102,"v":7},{"t":102.5,"v":3},{"t":103,"v":10},{"t":103.5,"v":12},{"t":104,"v":18},{"t":104.6,"v":7},{"t":105,"v":3},{"t":105.5,"v":12},{"t":106,"v":6},{"t":106.5,"v":0},{"t":107,"v":9},{"t":107.5,"v":4},{"t":108,"v":14},{"t":108.5,"v":6},{"t":109,"v":1},{"t":109.5,"v":11},{"t":110,"v":3},{"t":110.5,"v":0},{"t":111,"v":8},{"t":111.5,"v":12},{"t":112,"v":5},{"t":112.5,"v":11},{"t":113,"v":2},{"t":113.5,"v":12},{"t":114,"v":5},{"t":114.5,"v":1},{"t":115,"v":9},{"t":115.5,"v":11},{"t":116,"v":4},{"t":116.5,"v":10},{"t":117,"v":12},{"t":117.5,"v":19},{"t":118,"v":12},{"t":118.5,"v":16},{"t":119,"v":10},{"t":119.5,"v":19},{"t":120,"v":13},{"t":120.5,"v":17},{"t":121.2,"v":34.5},{"t":122,"v":17},{"t":122.5,"v":12},{"t":123,"v":14},{"t":123.5,"v":6},{"t":124,"v":10},{"t":124.5,"v":14},{"t":125,"v":3},{"t":125.5,"v":9},{"t":126,"v":12},{"t":126.5,"v":5},{"t":127,"v":15},{"t":127.7,"v":23},{"t":128.3,"v":11},{"t":129,"v":6},{"t":129.5,"v":0},{"t":130,"v":12},{"t":130.5,"v":5},{"t":131,"v":13},{"t":131.5,"v":2},{"t":132,"v":9},{"t":132.5,"v":12},{"t":133,"v":1},{"t":133.5,"v":7},{"t":134,"v":0},{"t":134.5,"v":10},{"t":135,"v":12},{"t":135.5,"v":4},{"t":136,"v":12},{"t":136.5,"v":3},{"t":137,"v":10},{"t":137.5,"v":2}]},"transform":[{"window":[{"op":"row_number","as":"i"}]}],"mark":{"type":"line","color":"#222","strokeWidth":0.7},"encoding":{"order":{"field":"i"}}}
]}
],"spacing":0,"bounds":"flush","align":"none","center":false}
],"spacing":5,"bounds":"flush","align":"none","center":false}
]}
